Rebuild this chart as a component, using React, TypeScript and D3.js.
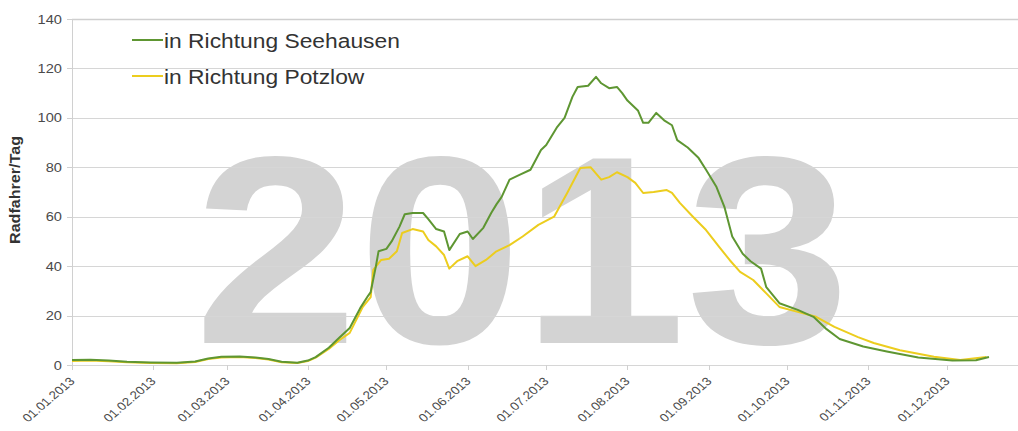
import React, { useEffect, useRef } from 'react';
import * as d3 from 'd3';

// day of year (0 = 01.01.2013) and daily cyclists
const seehausenDay = [0, 7, 14, 21, 30, 40, 47, 52, 57, 64, 70, 75, 80, 86, 90, 93, 98, 102, 106, 110, 113, 114, 116, 117, 120, 122, 125, 127, 130, 134, 136, 139, 142, 144, 148, 151, 153, 157, 160, 162, 164, 167, 171, 175, 179, 181, 185, 188, 191, 193, 197, 200, 202, 205, 208, 210, 212, 216, 218, 220, 223, 226, 229, 231, 235, 239, 242, 246, 249, 252, 256, 259, 263, 265, 270, 277, 283, 288, 293, 302, 311, 323, 336, 345, 350];
const seehausenValue = [2.0, 2.1, 1.8, 1.3, 1.0, 0.9, 1.4, 2.6, 3.3, 3.4, 3.0, 2.4, 1.3, 0.9, 1.8, 3.2, 7, 11, 15, 23, 28, 29.5, 40, 46, 47, 50, 56, 61, 61.5, 61.5, 59, 55, 54, 46.5, 53, 54, 51, 55.5, 61.5, 65, 68, 75, 77, 79, 87, 89, 96, 100, 108.5, 112.5, 113, 116.6, 114, 112, 112.5, 110, 107, 103, 98, 98, 102, 99, 97, 91, 88, 84, 79, 72, 64, 52, 45, 42, 39, 31.5, 25, 22.3, 19.5, 14.5, 10.5, 7.5, 5.5, 3.0, 1.8, 1.9, 3.2];

const potzlowDay = [0, 7, 14, 21, 30, 40, 47, 52, 57, 64, 70, 75, 80, 86, 90, 93, 98, 102, 106, 111, 114, 115, 118, 121, 124, 126, 130, 134, 136, 139, 142, 144, 147, 151, 154, 158, 162, 167, 172, 178, 184, 189, 194, 198, 202, 205, 208, 212, 215, 218, 222, 227, 229, 232, 237, 242, 247, 251, 255, 260, 265, 270, 277, 284, 291, 300, 306, 316, 329, 339, 349];
const potzlowValue = [1.6, 1.8, 1.5, 1.1, 0.8, 0.7, 1.2, 2.4, 3.0, 3.2, 2.8, 2.2, 1.1, 0.8, 1.6, 3.0, 6.5, 10, 13, 23.5, 27.5, 38.5, 42.5, 43, 46, 53.4, 55, 54, 50.6, 48, 44.5, 39, 42, 44, 40, 42.5, 46, 48.5, 52, 56.7, 60, 69.6, 79.7, 80, 75, 76, 78, 76, 73.7, 69.6, 70, 70.8, 69.6, 65.6, 60, 54.6, 47.8, 42.5, 37.7, 34.4, 29, 23.5, 21.5, 19.5, 15.4, 11.3, 8.9, 6, 3.3, 2, 3.2];

const yTicks = [0, 20, 40, 60, 80, 100, 120, 140];
const seriesNames = ['in Richtung Seehausen', 'in Richtung Potzlow'];
const seriesColors = ['#5e9632', '#eccd1e'];
const yTitle = 'Radfahrer/Tag';
const watermark = '2013';

const W = 1018;
const H = 431;
const stretch = 1.17; // the original picture is a bit wider than tall

export default function App() {
  const ref = useRef<SVGSVGElement>(null);

  useEffect(() => {
    const svg = d3.select(ref.current);
    svg.selectAll('*').remove();

    const start = new Date(2013, 0, 1);
    const x = d3.scaleTime()
      .domain([start, new Date(2014, 0, 1)])
      .range([72, 72 + 365 * 2.62]);
    const y = d3.scaleLinear().domain([0, 140]).range([365, 19]);

    const font = "'Liberation Sans', Arial, sans-serif";

    // big year in the background
    svg.append('text')
      .attr('transform', 'translate(522,343) scale(1.1,1)')
      .attr('text-anchor', 'middle')
      .style('font-family', font)
      .style('font-weight', 'bold')
      .style('font-size', '268px')
      .attr('fill', '#d3d3d3')
      .text(watermark);

    // grid
    svg.append('g')
      .selectAll('line')
      .data(yTicks)
      .enter().append('line')
      .attr('x1', 72)
      .attr('x2', W)
      .attr('y1', d => Math.round(y(d)) + 0.5)
      .attr('y2', d => Math.round(y(d)) + 0.5)
      .attr('stroke', d => (d === 140 ? '#cfcfcf' : '#d6d6d6'))
      .attr('stroke-width', d => (d === 140 ? 1.5 : 1));

    // y axis
    svg.append('line')
      .attr('x1', 72.5).attr('x2', 72.5)
      .attr('y1', y(140)).attr('y2', y(0))
      .attr('stroke', '#d0d0d0');
    const yt = svg.append('g');
    yTicks.forEach(t => {
      yt.append('line')
        .attr('x1', 67).attr('x2', 72)
        .attr('y1', Math.round(y(t)) + 0.5).attr('y2', Math.round(y(t)) + 0.5)
        .attr('stroke', '#d0d0d0');
      yt.append('text')
        .attr('transform', `translate(62,${y(t) + 4.5}) scale(${stretch},1)`)
        .attr('text-anchor', 'end')
        .style('font-family', font)
        .style('font-size', '12.5px')
        .attr('fill', '#4a4a4a')
        .text(t);
    });

    svg.append('text')
      .attr('transform', `translate(20,190) rotate(-90)`)
      .attr('text-anchor', 'middle')
      .style('font-family', font)
      .style('font-weight', 'bold')
      .style('font-size', '14px')
      .attr('fill', '#333')
      .attr('textLength', 108)
      .attr('lengthAdjust', 'spacingAndGlyphs')
      .text(yTitle);

    // x axis
    const fmt = d3.timeFormat('%d.%m.%Y');
    const months = d3.timeMonth.range(start, new Date(2013, 11, 2));
    const xt = svg.append('g');
    months.forEach(m => {
      const px = Math.round(x(m)) + 0.5;
      xt.append('line')
        .attr('x1', px).attr('x2', px)
        .attr('y1', 365).attr('y2', 370)
        .attr('stroke', '#d0d0d0');
      xt.append('text')
        .attr('transform', `translate(${px + 3},382) scale(${stretch},1) rotate(-45)`)
        .attr('text-anchor', 'end')
        .style('font-family', font)
        .style('font-size', '11.5px')
        .attr('fill', '#4a4a4a')
        .text(fmt(m));
    });

    // series
    const line = d3.line<[number, number]>()
      .x(d => x(d3.timeDay.offset(start, d[0])))
      .y(d => y(d[1]));

    const series = [
      d3.zip(seehausenDay, seehausenValue) as [number, number][],
      d3.zip(potzlowDay, potzlowValue) as [number, number][],
    ];
    // yellow first so green stays on top where they overlap
    [1, 0].forEach(i => {
      svg.append('path')
        .datum(series[i])
        .attr('d', line)
        .attr('fill', 'none')
        .attr('stroke', seriesColors[i])
        .attr('stroke-width', 2)
        .attr('stroke-linejoin', 'round');
    });

    // legend
    seriesNames.forEach((name, i) => {
      const ly = 40 + i * 36;
      svg.append('line')
        .attr('x1', 132).attr('x2', 163)
        .attr('y1', ly).attr('y2', ly)
        .attr('stroke', seriesColors[i])
        .attr('stroke-width', 2);
      svg.append('text')
        .attr('transform', `translate(164,${ly + 7.5}) scale(${stretch},1)`)
        .style('font-family', font)
        .style('font-size', '19.5px')
        .attr('fill', '#333')
        .text(name);
    });
  }, []);

  return (
    <div style={{ position: 'absolute', left: 0, top: 0 }}>
      <svg ref={ref} width={W} height={H} style={{ display: 'block', background: '#fff' }} />
    </div>
  );
}
